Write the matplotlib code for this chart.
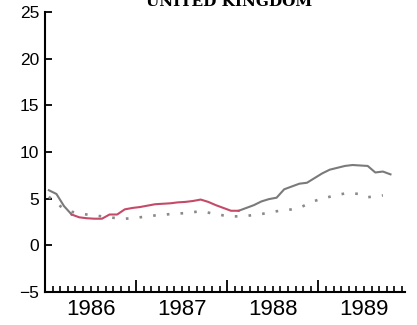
import matplotlib.pyplot as plt
import matplotlib.ticker as ticker
import numpy as np

# monthly values, Jan 1986 onwards
actual = [5.9, 5.5, 4.2, 3.3, 3.0, 2.9, 2.85, 2.85, 3.3, 3.3,
          3.85, 4.0, 4.1, 4.25, 4.4, 4.45, 4.5, 4.6, 4.65, 4.75,
          4.9, 4.65, 4.3, 4.0, 3.7, 3.7, 4.0, 4.3, 4.7, 4.95,
          5.1, 6.0, 6.3, 6.6, 6.7, 7.2, 7.7, 8.1, 8.3, 8.5,
          8.6, 8.55, 8.5, 7.8, 7.9, 7.6]
trend = [5.2, 4.5, 3.9, 3.6, 3.4, 3.3, 3.2, 3.1, 3.0, 2.9,
         2.85, 2.9, 3.0, 3.1, 3.2, 3.25, 3.35, 3.4, 3.45, 3.55,
         3.65, 3.5, 3.35, 3.2, 3.1, 3.1, 3.15, 3.25, 3.35, 3.5,
         3.65, 3.75, 3.85, 4.0, 4.4, 4.75, 5.0, 5.2, 5.4, 5.55,
         5.55, 5.5, 5.15, 5.25, 5.35]
red_start, red_end = 3, 25   # highlighted months
years = [1986, 1987, 1988, 1989]
title = "UNITED KINGDOM"

t_act = 1986 + (np.arange(len(actual)) + 0.5) / 12
t_tr = 1986 + (np.arange(len(trend)) + 0.5) / 12
actual = np.array(actual)

fig = plt.figure(figsize=(4.17, 3.25), dpi=100)
ax = fig.add_axes([0.108, 0.1015, 0.863, 0.862])

grey = "#7a7a7a"
red = "#c44a68"
ax.plot(t_act[:red_start + 1], actual[:red_start + 1], color=grey, lw=1.5)
ax.plot(t_act[red_end:], actual[red_end:], color=grey, lw=1.5)
ax.plot(t_act[red_start:red_end + 1], actual[red_start:red_end + 1], color=red, lw=1.5)
ax.plot(t_tr, trend, color="#8a8a8a", lw=1.9, linestyle=(0, (1, 4.2)))

ax.set_xlim(1986, 1989.95)
ax.set_ylim(-5, 25)
for s in ["top", "right"]:
    ax.spines[s].set_visible(False)
for s in ["left", "bottom"]:
    ax.spines[s].set_linewidth(1.5)

ax.yaxis.set_major_locator(ticker.MultipleLocator(5))
ax.tick_params(axis="y", direction="in", length=5, width=1.3, pad=4,
               labelsize=12.5, labelfontfamily="Liberation Sans")
ax.xaxis.set_major_locator(ticker.FixedLocator([1986, 1987, 1988, 1989]))
ax.xaxis.set_minor_locator(ticker.MultipleLocator(1 / 12))
ax.xaxis.set_major_formatter(ticker.NullFormatter())
ax.tick_params(axis="x", which="major", direction="in", length=9, width=1.3)
ax.tick_params(axis="x", which="minor", direction="in", length=4.5, width=1.2)

for y in years:
    ax.text(y + 0.5, -0.025, str(y), transform=ax.get_xaxis_transform(),
            ha="center", va="top", fontsize=16, family="Liberation Sans")

fig.text(0.55, 0.982, title, ha="center", va="baseline", fontsize=11,
         family="DejaVu Serif", weight="bold")

fig.savefig("out.png", dpi=100)
